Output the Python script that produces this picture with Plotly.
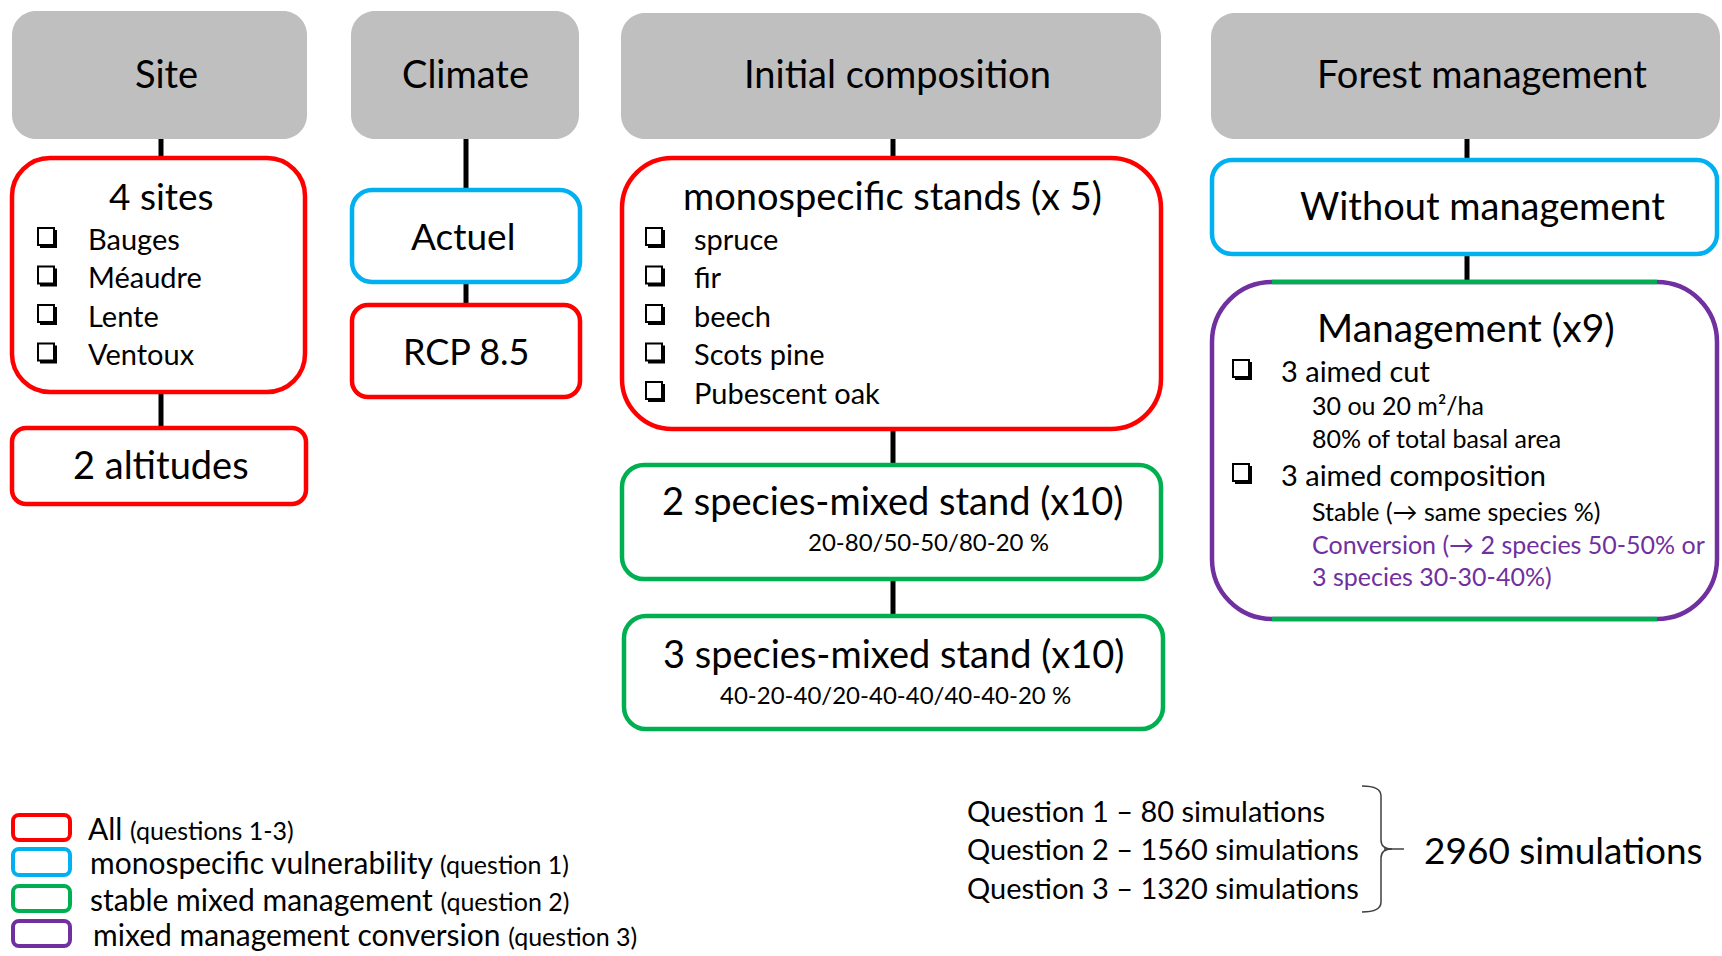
import plotly.graph_objects as go

# ---------------- data (texts) ----------------
headers = ["Site", "Climate", "Initial composition", "Forest management"]
site_title = "4 sites"
site_items = ["Bauges", "Méaudre", "Lente", "Ventoux"]
altitude_label = "2 altitudes"
climate_labels = ["Actuel", "RCP 8.5"]
mono_title = "monospecific stands (x 5)"
species_items = ["spruce", "fir", "beech", "Scots pine", "Pubescent oak"]
mix2_title = "2 species-mixed stand (x10)"
mix2_sub = "20-80/50-50/80-20 %"
mix3_title = "3 species-mixed stand (x10)"
mix3_sub = "40-20-40/20-40-40/40-40-20 %"
nomgmt_label = "Without management"
mgmt_title = "Management (x9)"
mgmt_items = ["3 aimed cut", "3 aimed composition"]
cut_details = ["30 ou 20 m²/ha", "80% of total basal area"]
comp_stable = "Stable (→ same species %)"
comp_conversion = ["Conversion (→ 2 species 50-50% or", "3 species 30-30-40%)"]
legend_main = ["All", "monospecific vulnerability", "stable mixed management", "mixed management conversion"]
legend_sub = ["(questions 1-3)", "(question 1)", "(question 2)", "(question 3)"]
question_labels = ["Question 1", "Question 2", "Question 3"]
question_sims = [80, 1560, 1320]
total_sims = 2960

# ---------------- style ----------------
RED = "#FF0000"; BLUE = "#00B0F0"; GREEN = "#00B050"; PURPLE = "#7030A0"; GREY = "#BFBFBF"
FONT = "Lato, Open Sans, sans-serif"
PAGE_W, PAGE_H = 1722, 956

fig = go.Figure()
shapes = []
ann = []


def rrect(x0, x1, y0, y1, r):
    k = 0.5523 * r
    return (f"M {x0+r},{y0} H {x1-r} C {x1-r+k},{y0} {x1},{y0+r-k} {x1},{y0+r} "
            f"V {y1-r} C {x1},{y1-r+k} {x1-r+k},{y1} {x1-r},{y1} "
            f"H {x0+r} C {x0+r-k},{y1} {x0},{y1-r+k} {x0},{y1-r} "
            f"V {y0+r} C {x0},{y0+r-k} {x0+r-k},{y0} {x0+r},{y0} Z")


def box(x0, x1, y0, y1, r, line=None, fill="white", lw=4.5):
    shapes.append(dict(type="path", xref="x", yref="y", path=rrect(x0, x1, y0, y1, r),
                       fillcolor=fill, line=dict(color=line if line else fill, width=lw if line else 0),
                       layer="above"))


def vline(x, y0, y1, w=5):
    shapes.append(dict(type="line", xref="x", yref="y", x0=x, x1=x, y0=y0, y1=y1,
                       line=dict(color="black", width=w), layer="below"))


def txt(x, y, s, size, color="black", xanchor="center", font=FONT):
    ann.append(dict(x=x, y=y, xref="x", yref="y", text=s, showarrow=False,
                    xanchor=xanchor, yanchor="middle", font=dict(family=font, size=size, color=color)))


def check(cx, cy):
    # shadowed square bullet
    shapes.append(dict(type="rect", xref="x", yref="y", x0=cx - 7, x1=cx + 10, y0=cy - 8, y1=cy + 10,
                       fillcolor="black", line=dict(width=0), layer="above"))
    shapes.append(dict(type="rect", xref="x", yref="y", x0=cx - 9, x1=cx + 7, y0=cy - 10, y1=cy + 7,
                       fillcolor="white", line=dict(color="black", width=2), layer="above"))

# connectors
vline(161, 139, 158); vline(161, 392, 428)
vline(466, 139, 190); vline(466, 282, 305)
vline(893, 139, 158); vline(893, 429, 465); vline(893, 579, 616)
vline(1467, 139, 160); vline(1467, 254, 282)

# headers
hdr_geo = [(12, 307, 11, 139), (351, 579, 11, 139), (621, 1161, 13, 139), (1211, 1720, 13, 139)]
hdr_cx = [166, 465, 897, 1482]
for (x0, x1, y0, y1), cx, h in zip(hdr_geo, hdr_cx, headers):
    box(x0, x1, y0, y1, 24, fill=GREY)
    txt(cx, 73, h, 38)

# Site column
box(12, 305, 158, 392, 38, RED)
txt(161, 195, site_title, 37)
for i, s in enumerate(site_items):
    y = 238 + i * 38.5
    check(47, y)
    txt(86, y, s, 29, xanchor="left")
box(12, 306, 428, 504, 14, RED)
txt(161, 464, altitude_label, 38)

# Climate column
box(352, 580, 190, 282, 20, BLUE)
txt(463, 235, climate_labels[0], 37)
box(352, 580, 305, 397, 16, RED)
txt(466, 351, climate_labels[1], 36)

# Initial composition column
box(622, 1161, 158, 429, 50, RED)
txt(892, 195, mono_title, 38)
for i, s in enumerate(species_items):
    y = 238 + i * 38.5
    check(655, y)
    txt(692, y, s, 29, xanchor="left")
box(622, 1161, 465, 579, 22, GREEN)
txt(892, 500, mix2_title, 38)
txt(928, 541, mix2_sub, 24)
box(624, 1163, 616, 729, 22, GREEN)
txt(893, 653, mix3_title, 38)
txt(895, 694, mix3_sub, 24)

# Forest management column
box(1212, 1717, 160, 254, 20, BLUE)
txt(1482, 205, nomgmt_label, 38)
mx0, mx1, my0, my1, mr = 1212, 1717, 282, 619, 60
box(mx0, mx1, my0, my1, mr, PURPLE)
for yy in (my0, my1):
    shapes.append(dict(type="line", xref="x", yref="y", x0=mx0 + mr, x1=mx1 - mr, y0=yy, y1=yy,
                       line=dict(color=GREEN, width=4.5), layer="above"))
txt(1466, 327, mgmt_title, 39)
check(1242, 370); txt(1279, 370, mgmt_items[0], 29, xanchor="left")
txt(1310, 405, cut_details[0], 25, xanchor="left")
txt(1310, 438, cut_details[1], 25, xanchor="left")
check(1242, 474); txt(1279, 474, mgmt_items[1], 29, xanchor="left")
txt(1310, 511, comp_stable, 25, xanchor="left")
txt(1310, 544, comp_conversion[0], 25, color=PURPLE, xanchor="left")
txt(1310, 576, comp_conversion[1], 25, color=PURPLE, xanchor="left")

# Legend
leg_cols = [RED, BLUE, GREEN, PURPLE]
leg_y = [(815, 840), (849, 875), (886, 911), (921, 946)]
leg_tx = [86, 88, 88, 91]
for c, (y0, y1), m, s, tx in zip(leg_cols, leg_y, legend_main, legend_sub, leg_tx):
    box(13, 70, y0, y1, 6, c, lw=4)
    txt(tx, (y0 + y1) / 2, f"{m} <span style='font-size:25px'>{s}</span>", 30, xanchor="left")

# Simulations summary
for i, (q, n) in enumerate(zip(question_labels, question_sims)):
    txt(965, 810 + i * 38.5, f"{q} – {n} simulations", 29, xanchor="left")
shapes.append(dict(type="path", xref="x", yref="y",
                   path="M 1362,786 Q 1381,786 1381,796 V 840 Q 1381,849 1392,849 Q 1381,849 1381,858 V 902 Q 1381,912 1362,912",
                   line=dict(color="#404040", width=1.5)))
shapes.append(dict(type="line", xref="x", yref="y", x0=1384, x1=1404, y0=849, y1=849,
                   line=dict(color="#404040", width=1.5)))
txt(1422, 849, f"{total_sims} simulations", 37, xanchor="left")

fig.update_layout(
    width=PAGE_W, height=PAGE_H, margin=dict(l=0, r=0, t=0, b=0),
    plot_bgcolor="white", paper_bgcolor="white",
    xaxis=dict(range=[0, PAGE_W], visible=False, fixedrange=True),
    yaxis=dict(range=[PAGE_H, 0], visible=False, fixedrange=True),
    shapes=shapes, annotations=ann, showlegend=False,
)
fig.write_html("out.html", config={"displayModeBar": False},
               post_script="document.body.style.margin='0px'; document.body.style.overflow='hidden';")
